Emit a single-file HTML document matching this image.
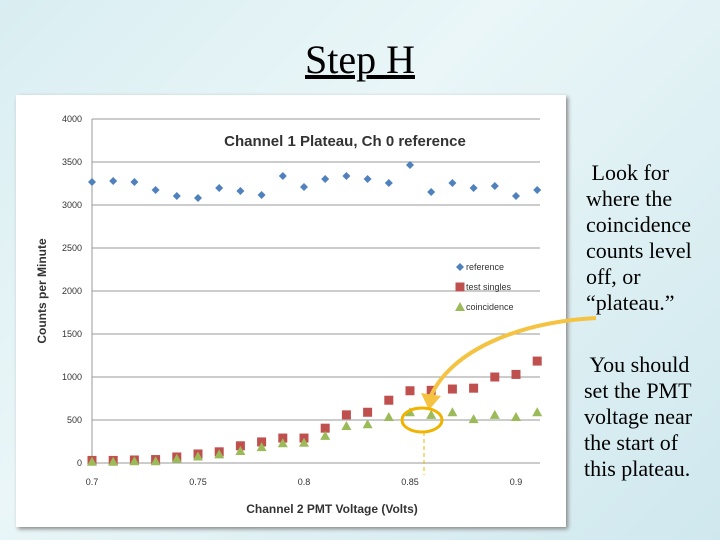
<!DOCTYPE html>
<html><head><meta charset="utf-8"><style>
body{margin:0;width:720px;height:540px;overflow:hidden;background:linear-gradient(135deg,#d9eef2 0%,#eaf6f8 40%,#cfe8ee 100%);font-family:"Liberation Serif",serif;position:relative}
#title{position:absolute;left:0;width:720px;top:36px;text-align:center;font-size:40px;}
#title span{text-decoration:underline}
.side{position:absolute;left:586px;font-size:22px;line-height:26px;color:#000}
#panel{position:absolute;left:16px;top:95px;width:550px;height:432px;background:#fff;box-shadow:2px 2px 4px #888}
</style></head><body>
<div id="title"><span>Step H</span></div>
<div id="panel"></div>
<div class="side" style="top:160px">&nbsp;Look for<br>where the<br>coincidence<br>counts level<br>off, or<br>“plateau.”</div>
<div class="side" style="top:352px;left:584px">&nbsp;You should<br>set the PMT<br>voltage near<br>the start of<br>this plateau.</div>
<svg id="chart" width="720" height="540" style="position:absolute;left:0;top:0"></svg>
<script>
const volts=[0.70,0.71,0.72,0.73,0.74,0.75,0.76,0.77,0.78,0.79,0.80,0.81,0.82,0.83,0.84,0.85,0.86,0.87,0.88,0.89,0.90,0.91];
const reference=[3267,3279,3267,3174,3105,3081,3198,3163,3116,3337,3209,3302,3337,3302,3256,3465,3151,3256,3198,3221,3105,3174];
const testSingles=[30,30,35,40,70,105,130,200,245,290,290,405,560,590,730,840,845,860,870,1000,1030,1185];
const coincidence=[15,15,20,20,50,75,100,140,185,230,235,315,430,450,535,590,560,590,510,560,535,590];
const yTicks=[0,500,1000,1500,2000,2500,3000,3500,4000];
const xTicks=[0.7,0.75,0.8,0.85,0.9];
const NS="http://www.w3.org/2000/svg";
const svg=document.getElementById('chart');
const X=v=>92+(v-0.7)*2120;
const Y=v=>463-v*0.086;
function mk(t,a,p){const e=document.createElementNS(NS,t);for(const k in a)e.setAttribute(k,a[k]);(p||svg).appendChild(e);return e;}
yTicks.forEach(t=>{
 const l=mk('line',{x1:92,x2:540,y1:Y(t),y2:Y(t),stroke:'#999','stroke-width':1});
 
 
 const tx=mk('text',{x:82,y:Y(t)+3,'text-anchor':'end','font-size':9,'font-family':'Liberation Sans, sans-serif',fill:'#333'});
 tx.textContent=t;
 
 
});
mk('line',{x1:92,x2:92,y1:Y(4000),y2:Y(0),stroke:'#999'});
xTicks.forEach(t=>{
 const tx=mk('text',{x:X(t),y:485,'text-anchor':'middle','font-size':9,'font-family':'Liberation Sans, sans-serif',fill:'#333'});
 tx.textContent=t;
 
 
});
let t=mk('text',{x:345,y:146,'text-anchor':'middle','font-size':15,'font-weight':'bold','font-family':'Liberation Sans, sans-serif',fill:'#333'});
t.textContent='Channel 1 Plateau, Ch 0 reference';

t=mk('text',{x:332,y:513,'text-anchor':'middle','font-size':12,'font-weight':'bold','font-family':'Liberation Sans, sans-serif',fill:'#333'});
t.textContent='Channel 2 PMT Voltage (Volts)';

t=mk('text',{x:0,y:0,'text-anchor':'middle','font-size':12,'font-weight':'bold','font-family':'Liberation Sans, sans-serif',fill:'#333',transform:'translate(46,291) rotate(-90)'});
t.textContent='Counts per Minute';

function diamond(x,y){return mk('polygon',{points:`${x},${y-4} ${x+4},${y} ${x},${y+4} ${x-4},${y}`,fill:'#4f81bd'});}
function square(x,y){return mk('rect',{x:x-4.5,y:y-4.5,width:9,height:9,fill:'#c0504d'});}
function tri(x,y){return mk('polygon',{points:`${x},${y-5} ${x+5},${y+4} ${x-5},${y+4}`,fill:'#9bbb59'});}
volts.forEach((v,i)=>{
 let e=diamond(X(v),Y(reference[i]));
 
 e=square(X(v),Y(testSingles[i]));
 
 e=tri(X(v),Y(coincidence[i]));
 
});
const leg=[['reference',diamond],['test singles',square],['coincidence',tri]];
leg.forEach((l,i)=>{
 const y=267+i*20;
 const m=l[1](460,y);
 
 const tx=mk('text',{x:466,y:y+3,'font-size':9,'font-family':'Liberation Sans, sans-serif',fill:'#333'});
 tx.textContent=l[0];
 
});
let a=mk('path',{d:'M596,318 C520,322 450,350 430,398',fill:'none',stroke:'#f5c342','stroke-width':4});

a=mk('polygon',{points:'421,393 441,396 429,410',fill:'#f5c342'});

a=mk('ellipse',{cx:422,cy:420,rx:20,ry:12,fill:'none',stroke:'#f0b400','stroke-width':3});

a=mk('line',{x1:424,x2:424,y1:432,y2:475,stroke:'#f0b400','stroke-width':1,'stroke-dasharray':'4,3'});

</script>
</body></html>
